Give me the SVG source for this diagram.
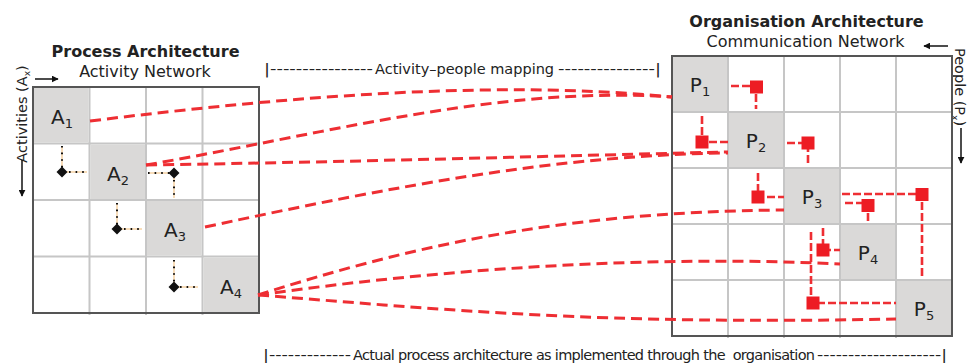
<svg xmlns="http://www.w3.org/2000/svg" width="969" height="363" viewBox="0 0 969 363">
<style>
text{font-family:"DejaVu Sans","Verdana",sans-serif;fill:#222}
.ttl{font-weight:bold;font-size:16px;text-anchor:middle}
.sub{font-size:16px;text-anchor:middle}
.lbl{font-size:14.5px}
.cell{fill:#dad9d8}
.inner{stroke:#c6c6c6;stroke-width:2;fill:none}
.outer{stroke:#555;stroke-width:2;fill:none}
.nd{font-size:20px;text-anchor:middle}
.map{fill:none;stroke:#ee2e33;stroke-width:3;stroke-dasharray:11 6}
.dep{fill:none;stroke:#ee2e33;stroke-width:2.6;stroke-dasharray:8 3}
.sq{fill:#ed1c24}
.dotbg{fill:none;stroke:#f6d2a4;stroke-width:1.5}
.dot{fill:none;stroke:#111;stroke-width:2;stroke-dasharray:1.6 5;stroke-linecap:butt}
.dia{fill:#111}
.arr{stroke:#111;stroke-width:1.5;fill:none}
</style>
<defs>
<marker id="ah" viewBox="0 0 10 10" refX="9" refY="5" markerWidth="7" markerHeight="7" orient="auto" markerUnits="userSpaceOnUse">
<path d="M0,0 L10,5 L0,10 z" fill="#111"/>
</marker>
</defs>

<!-- titles -->
<text class="ttl" x="145.5" y="57">Process Architecture</text>
<text class="sub" x="145" y="77">Activity Network</text>
<text class="ttl" x="806.5" y="27">Organisation Architecture</text>
<text class="sub" x="805.5" y="47">Communication Network</text>

<!-- axis labels -->
<text class="lbl" font-size="13.5" text-anchor="middle" transform="translate(27,114) rotate(-90)">Activities (A<tspan font-size="9" dy="3">x</tspan><tspan dy="-3">)</tspan></text>
<line class="arr" x1="22" y1="160" x2="22" y2="196" marker-end="url(#ah)"/>
<line class="arr" x1="35" y1="79" x2="58" y2="79" marker-end="url(#ah)"/>
<text class="lbl" font-size="13.5" text-anchor="middle" transform="translate(955,87) rotate(90)">People (P<tspan font-size="9" dy="3">x</tspan><tspan dy="-3">)</tspan></text>
<line class="arr" x1="961" y1="128" x2="961" y2="163" marker-end="url(#ah)"/>
<line class="arr" x1="948" y1="46" x2="924" y2="46" marker-end="url(#ah)"/>

<!-- mapping labels -->
<text class="lbl" x="264" y="74" textLength="109" lengthAdjust="spacingAndGlyphs">|----------------</text>
<text class="lbl" x="375" y="74">Activity–people mapping</text>
<text class="lbl" x="558" y="74" textLength="103" lengthAdjust="spacingAndGlyphs">---------------|</text>
<text class="lbl" x="263" y="360" textLength="88" lengthAdjust="spacingAndGlyphs">|-------------</text>
<text class="lbl" x="353" y="360" textLength="462" lengthAdjust="spacing" xml:space="preserve">Actual process architecture as implemented through the  organisation</text>
<text class="lbl" x="817" y="360" textLength="130" lengthAdjust="spacingAndGlyphs">--------------------|</text>

<!-- left grid -->
<g id="activity-grid">
<path class="inner" d="M89.5,87V315M146,87V315M202.5,87V315M33,143.5H259M33,200H259M33,256.5H259"/>
</g>
<g id="A1"><rect class="cell" x="34" y="88" width="54.5" height="54.5"/><text class="nd" x="62" y="124">A<tspan font-size="13" dy="4">1</tspan></text></g>
<g id="A2"><rect class="cell" x="90.5" y="144.5" width="54.5" height="54.5"/><text class="nd" x="118" y="181">A<tspan font-size="13" dy="4">2</tspan></text></g>
<g id="A3"><rect class="cell" x="147" y="201" width="54.5" height="54.5"/><text class="nd" x="175" y="237">A<tspan font-size="13" dy="4">3</tspan></text></g>
<g id="A4"><rect class="cell" x="203.5" y="257.5" width="54.5" height="54.5"/><text class="nd" x="231" y="294">A<tspan font-size="13" dy="4">4</tspan></text></g>
<rect class="outer" x="33" y="87" width="226" height="226"/>

<!-- right grid -->
<g id="people-grid">
<path class="inner" d="M728,56V338M784,56V338M840,56V338M896,56V338M672,112H952M672,168H952M672,224H952M672,280H952"/>
</g>
<g id="P1"><rect class="cell" x="673" y="57" width="54" height="54"/><text class="nd" x="700" y="92">P<tspan font-size="13" dy="4">1</tspan></text></g>
<g id="P2"><rect class="cell" x="729" y="113" width="54" height="54"/><text class="nd" x="756" y="148">P<tspan font-size="13" dy="4">2</tspan></text></g>
<g id="P3"><rect class="cell" x="785" y="169" width="54" height="54"/><text class="nd" x="812" y="204">P<tspan font-size="13" dy="4">3</tspan></text></g>
<g id="P4"><rect class="cell" x="841" y="225" width="54" height="54"/><text class="nd" x="868" y="260">P<tspan font-size="13" dy="4">4</tspan></text></g>
<g id="P5"><rect class="cell" x="897" y="281" width="54" height="54"/><text class="nd" x="924" y="316">P<tspan font-size="13" dy="4">5</tspan></text></g>
<rect class="outer" x="672" y="56" width="280" height="280"/>

<!-- activity dependencies -->
<g id="activity-dependencies">
<path class="dotbg" d="M62,146V172H87M148,173H174V198M117,203V229H142M174,260V287H198"/>
<path class="dot" d="M62,146V172H87M148,173H174V198M117,203V229H142M174,260V287H198"/>
<path class="dia" d="M62,166.5L67.5,172L62,177.5L56.5,172z"/>
<path class="dia" d="M174,167.5L179.5,173L174,178.5L168.5,173z"/>
<path class="dia" d="M117,223.5L122.5,229L117,234.5L111.5,229z"/>
<path class="dia" d="M174,281.5L179.5,287L174,292.5L168.5,287z"/>
</g>

<!-- people dependencies -->
<g id="people-dependencies">
<path class="dep" d="M731,86H756V109"/>
<path class="dep" d="M702,116V142H728"/>
<path class="dep" d="M787,143H808V166"/>
<path class="dep" d="M758,173V197H784"/>
<path class="dep" d="M842,194H922V278"/>
<path class="dep" d="M845,203H868V223"/>
<path class="dep" d="M823,228V250H840"/>
<path class="dep" d="M811,232V303H896"/>
<rect class="sq" x="750" y="80.5" width="13" height="13"/>
<rect class="sq" x="695.5" y="135.5" width="13" height="13"/>
<rect class="sq" x="801.5" y="136.5" width="13" height="13"/>
<rect class="sq" x="751.5" y="190.5" width="13" height="13"/>
<rect class="sq" x="915.5" y="188" width="13" height="13"/>
<rect class="sq" x="861.5" y="199" width="13" height="13"/>
<rect class="sq" x="816.5" y="243.5" width="13" height="13"/>
<rect class="sq" x="806.5" y="296.5" width="13" height="13"/>
</g>

<!-- activity-people mapping connectors -->
<g id="connectors">
<path class="map" d="M90,121C300,95 500,80 672,97"/>
<path class="map" d="M146,165C320,135 500,85 672,97"/>
<path class="map" d="M146,165C350,162 550,156 728,152"/>
<path class="map" d="M205,227C400,185 560,155 728,153"/>
<path class="map" d="M258,295C400,250 550,212 784,210"/>
<path class="map" d="M258,295C450,268 650,255 840,264"/>
<path class="map" d="M258,295C450,310 600,325 896,319"/>
</g>
</svg>
